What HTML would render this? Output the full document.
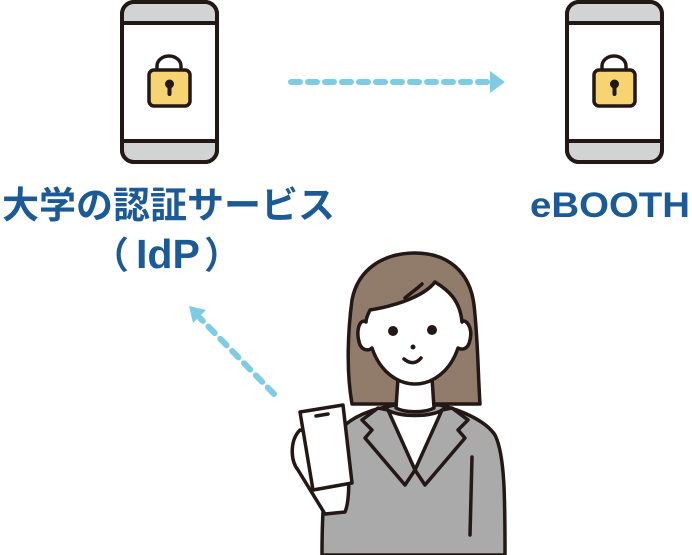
<!DOCTYPE html>
<html><head><meta charset="utf-8"><style>
html,body{margin:0;padding:0;background:#fff;}
svg{display:block;}
</style></head><body>
<svg width="692" height="555" viewBox="0 0 692 555" xmlns="http://www.w3.org/2000/svg">
<defs>
<g id="phone">
  <rect x="0" y="0" width="95" height="160" rx="12" fill="#fff" stroke="#231815" stroke-width="4"/>
  <path d="M2,20 V12 A10,10 0 0 1 12,2 H83 A10,10 0 0 1 93,12 V20 Z" fill="#d2d4d3"/>
  <path d="M2,140 V148 A10,10 0 0 0 12,158 H83 A10,10 0 0 0 93,148 V140 Z" fill="#d2d4d3"/>
  <line x1="0" y1="21" x2="95" y2="21" stroke="#231815" stroke-width="4"/>
  <line x1="0" y1="139" x2="95" y2="139" stroke="#231815" stroke-width="4"/>
  <rect x="0" y="0" width="95" height="160" rx="12" fill="none" stroke="#231815" stroke-width="4"/>
  <path d="M35,68 V64 A12,10 0 0 1 59,64 V68" fill="none" stroke="#231815" stroke-width="3.5"/>
  <rect x="27" y="68" width="41" height="36" rx="5" fill="#f5d471" stroke="#231815" stroke-width="3.5"/>
  <circle cx="47.5" cy="82" r="4.5" fill="#231815"/>
  <rect x="45.5" y="82" width="4" height="12" rx="2" fill="#231815"/>
</g>
</defs>
<use href="#phone" x="122" y="2"/>
<use href="#phone" x="567" y="2"/>

<line x1="291" y1="82" x2="490" y2="82" stroke="#7ecbe3" stroke-width="6" stroke-linecap="round" stroke-dasharray="9 8"/>
<polygon points="490,71 505,82 490,93" fill="#7ecbe3"/>
<line x1="274" y1="394" x2="200" y2="318" stroke="#7ecbe3" stroke-width="6" stroke-linecap="round" stroke-dasharray="9 8"/>
<polygon points="189,306 206,310 193,323" fill="#7ecbe3"/>

<g fill="#1c5a95" font-weight="bold" font-family="'Liberation Sans','Noto Sans CJK JP',sans-serif">
<text x="2" y="218" font-size="37" textLength="333" lengthAdjust="spacingAndGlyphs">大学の認証サービス</text>
<text x="92" y="268" font-size="37" font-family="'Noto Sans CJK JP',sans-serif">（</text>
<text x="136" y="268" font-size="41" textLength="64" lengthAdjust="spacingAndGlyphs">IdP</text>
<text x="204" y="268" font-size="37" font-family="'Noto Sans CJK JP',sans-serif">）</text>
<text x="530" y="217" font-size="35" textLength="160" lengthAdjust="spacingAndGlyphs">eBOOTH</text>
</g>

<g stroke="#231815" stroke-width="3.5" stroke-linejoin="round" stroke-linecap="round">
  <path d="M352,404 C346,370 348,330 352,300 C358,268 385,253 415,253 C448,253 470,272 474,305 C478,340 478,375 480,404 Z" fill="#917c6b"/>
  <path d="M322,555 C322,500 325,450 345,425 C360,412 380,408 395,405 L440,405 C460,410 485,420 495,435 C505,455 505,500 505,555 Z" fill="#aaaaaa"/>
  <path d="M385,408 C395,418 435,418 445,408 L415,470 Z" fill="#fff"/>
  <path d="M378,408 L362,420 L372,430 L365,438 L405,485 L415,470 L388,410 Z" fill="#aaaaaa"/>
  <path d="M452,408 L468,420 L458,430 L465,438 L425,485 L415,470 L442,410 Z" fill="#aaaaaa"/>
  <line x1="472" y1="457" x2="470" y2="535" />
  <path d="M398,378 L396,408 C405,413 425,413 434,408 L432,378 Z" fill="#fff"/>
  <path d="M366,322 C360,318 355,330 360,345 C364,352 370,350 372,348 C380,372 398,384 415,384 C432,384 450,372 458,348 C462,350 468,350 470,340 C473,328 466,318 462,322 C460,300 448,290 435,282 C425,295 400,305 370,310 C368,314 366,318 366,322 Z" fill="#fff"/>
  <path d="M405,298 C412,292 418,288 422,284" fill="none"/>
  <path d="M298,470 C290,460 290,440 300,430 L345,440 C350,470 350,500 345,512 L325,514 Z" fill="#fff"/>
  <polygon points="300,412 343,405 352,483 313,490" fill="#fff"/>
  <line x1="316" y1="416" x2="328" y2="414"/>
</g>
<circle cx="393" cy="331" r="5" fill="#231815"/>
<circle cx="432" cy="330" r="5" fill="#231815"/>
<circle cx="413" cy="347" r="2.5" fill="#231815"/>
<path d="M404,359 C410,364 416,364 421,358" fill="none" stroke="#231815" stroke-width="3.5" stroke-linecap="round"/>
</svg>
</body></html>
